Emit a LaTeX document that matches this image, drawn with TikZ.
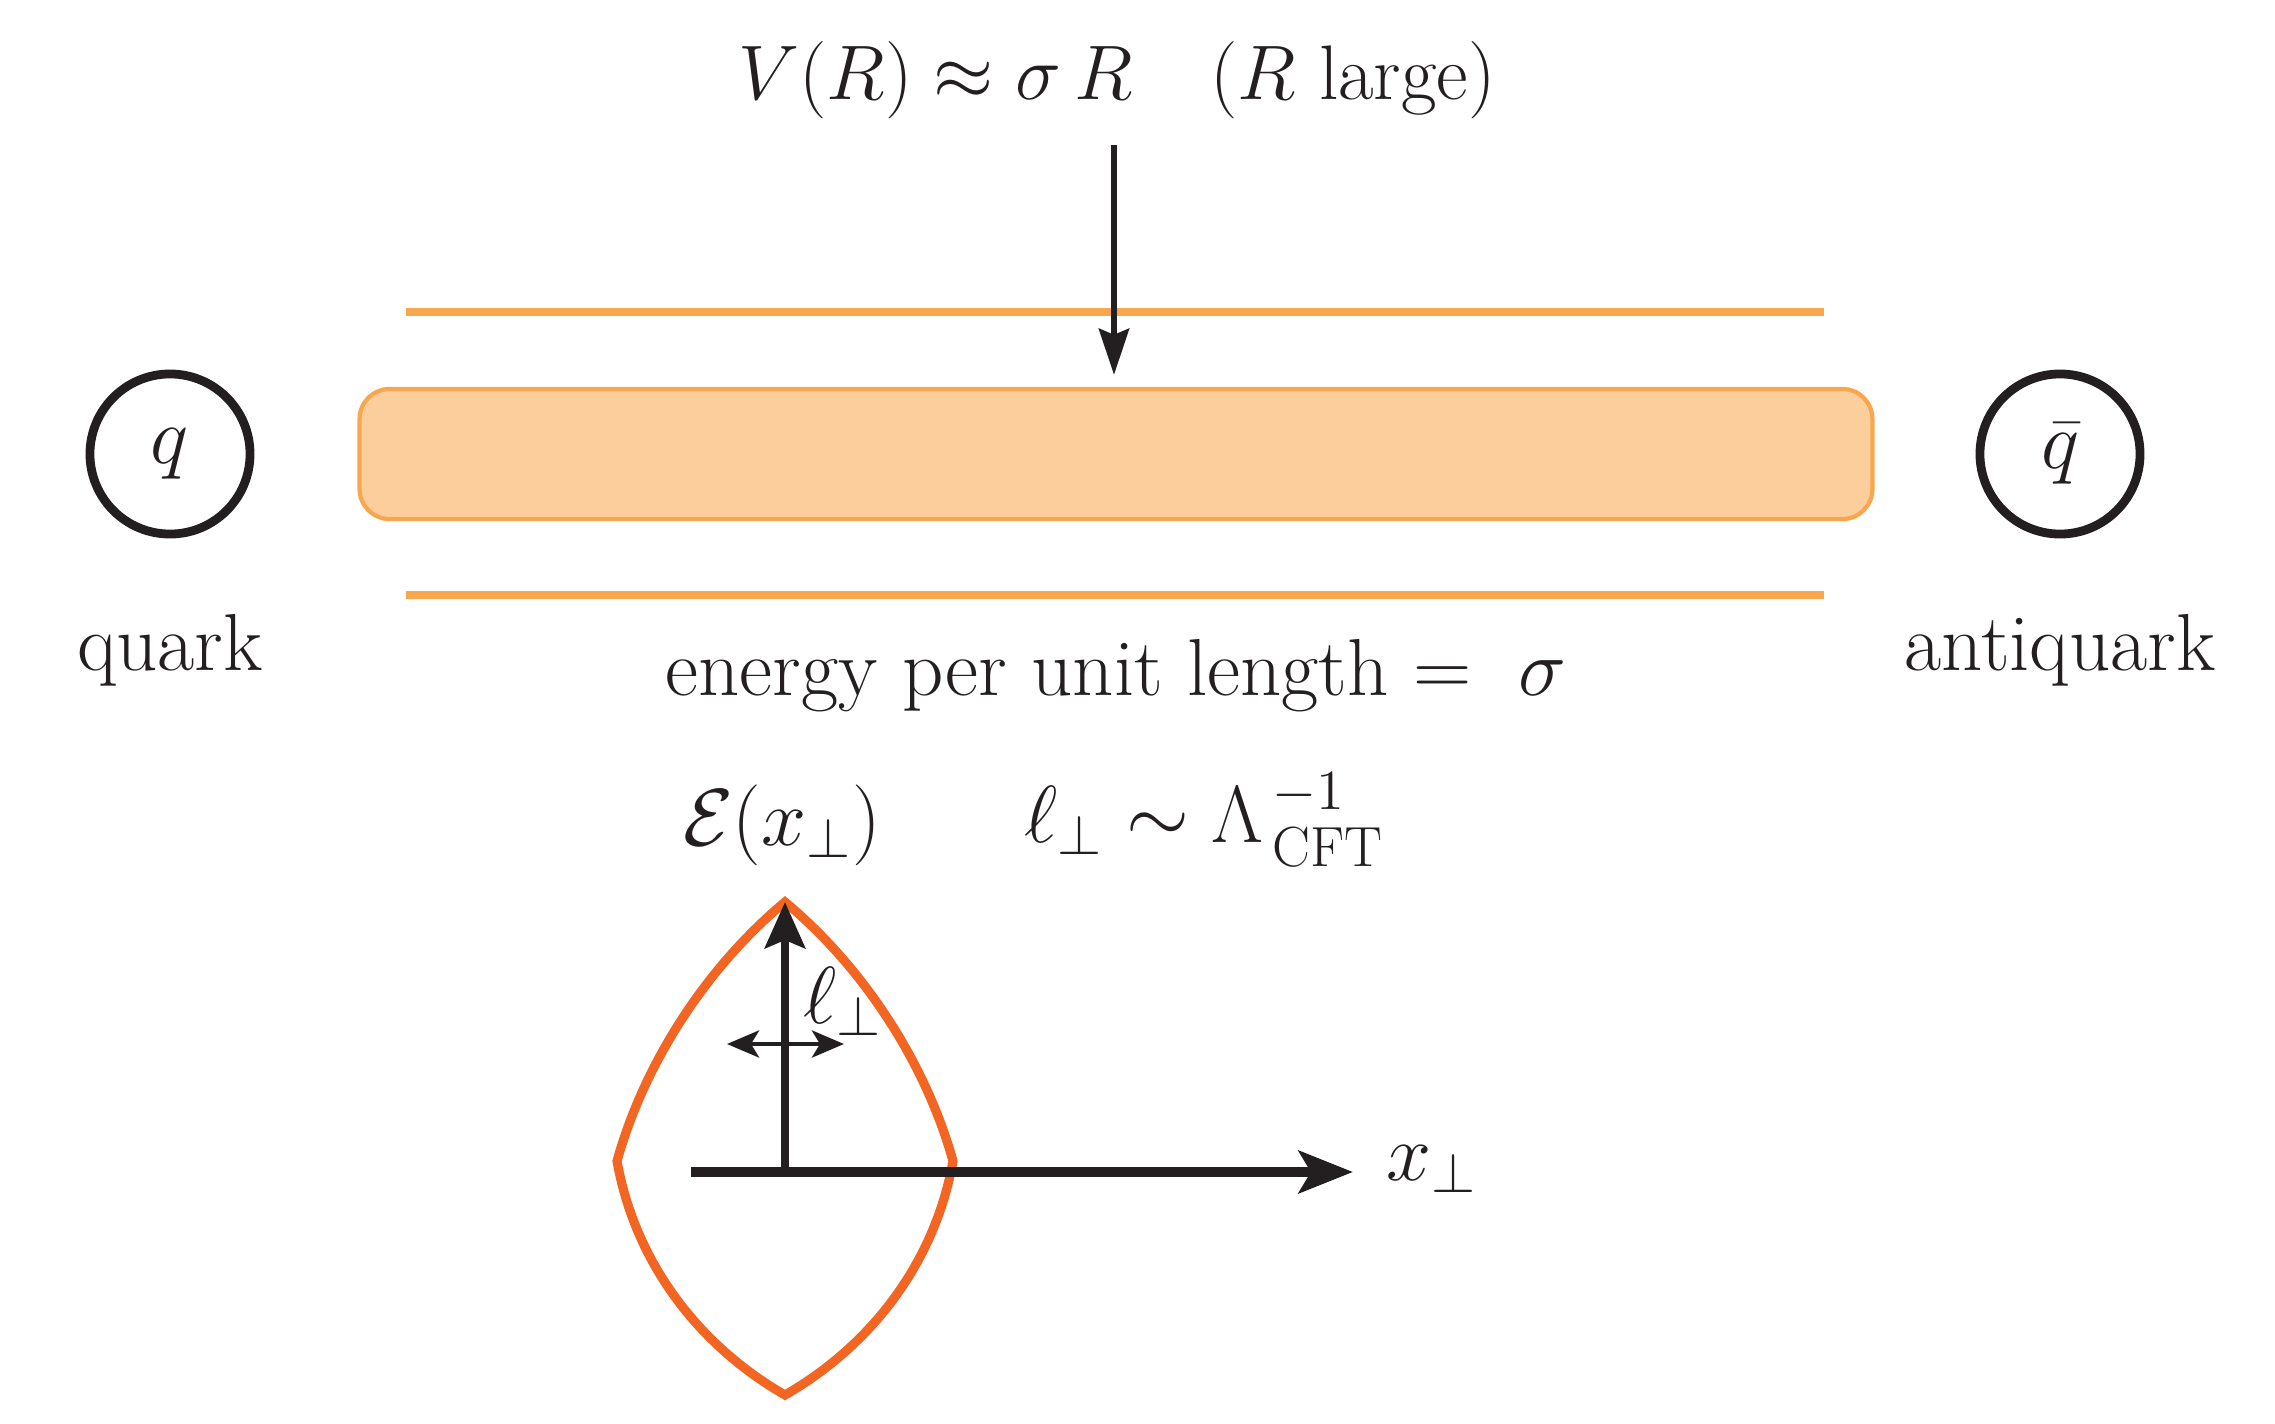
\RequirePackage{fix-cm}
\documentclass[tikz,border=0pt]{standalone}
\usepackage{amsmath,amssymb}
\usepackage{fontspec}
\usetikzlibrary{arrows.meta}
\definecolor{tubefill}{HTML}{FCCE9B}
\definecolor{tubeline}{HTML}{F9A74F}
\definecolor{lensc}{HTML}{F26522}
\definecolor{ink}{HTML}{231F20}
\begin{document}
\begin{tikzpicture}[x=0.01cm,y=-0.01cm,
  lbl/.style={font=\fontsize{23}{27}\selectfont, inner sep=0pt, text=ink},
  particle/.style={circle, draw=ink, line width=2.5pt, minimum size=1.6cm, inner sep=0pt, font=\fontsize{23}{27}\selectfont, text=ink},
  tubebox/.style={draw=tubeline, fill=tubefill, line width=1.2pt, rounded corners=0.3cm, minimum width=15.12cm, minimum height=1.3cm, inner sep=0pt},
  fluxline/.style={draw=tubeline, line width=2pt},
  downarrow/.style={draw=ink, line width=1.8pt, -{Stealth[length=0.46cm, width=0.3cm, inset=0.06cm]}},
  xaxisline/.style={draw=ink, line width=3pt, -{Stealth[length=0.54cm, width=0.42cm, inset=0.12cm]}},
  yaxisline/.style={draw=ink, line width=2.4pt, -{Stealth[length=0.46cm, width=0.4cm, inset=0.08cm]}},
  widtharrow/.style={draw=ink, line width=1.3pt, {Stealth[length=0.32cm, width=0.27cm, inset=0.08cm]}-{Stealth[length=0.32cm, width=0.27cm, inset=0.08cm]}},
  lensline/.style={draw=lensc, line width=2.6pt, line join=miter},
]
\useasboundingbox (0,0) rectangle (2275,1424);

% title and arrow
\node[lbl, font=\fontsize{22}{26}\selectfont, anchor=base] (title) at (1117,99) {$V(R) \approx \sigma\, R \quad (R\ \text{large})$};
\coordinate (arrowtop) at (1114,145);

% flux tube
\draw[fluxline] (406,312) -- (1824,312);
\node[tubebox] (tube) at (1116,454) {};
\draw[fluxline] (406,595) -- (1824,595);
\draw[downarrow, shorten >=0.12cm] (arrowtop) -- (arrowtop |- tube.north);

% quarks
\node[particle] (q) at (170,454) {$q$};
\node[particle] (qbar) at (2060,454) {$\bar q$};
\node[lbl, anchor=base] (quarklbl) at (170,670) {quark};
\node[lbl, anchor=base] (antiquarklbl) at (2060,670) {antiquark};
\node[lbl, anchor=base] (energylbl) at (1116,695) {energy per unit length $=\ \sigma$};

% profile labels
\node[lbl, anchor=base] (elbl) at (782,845) {$\mathcal{E}(x_\perp)$};
\node[lbl, anchor=base west] (llbl) at (1024,842) {$\ell_\perp \sim \Lambda_{\,\mathrm{CFT}}^{\,-1}$};

% lens profile
\draw[lensline] (785,902) .. controls (862,966) and (925,1061) .. (953,1161)
  .. controls (935,1262) and (872,1345) .. (785,1395)
  .. controls (698,1345) and (635,1262) .. (617,1161)
  .. controls (645,1061) and (708,966) .. cycle;

% axes
\coordinate (origin) at (785,1172);
\coordinate (xstart) at (691,1172);
\coordinate (xend) at (1353,1172);
\coordinate (ytop) at (785,902);
\draw[xaxisline] (xstart) -- (xend);
\draw[yaxisline] (origin) -- (ytop);
\node[lbl, anchor=base west] (xlbl) at (1386,1180) {$x_\perp$};

% width arrow
\coordinate (wl) at (727,1044);
\coordinate (wr) at (844,1044);
\draw[widtharrow] (wl) -- (wr);
\node[lbl, anchor=base west] (wlbl) at (803,1023) {$\ell_\perp$};
\end{tikzpicture}
\end{document}
